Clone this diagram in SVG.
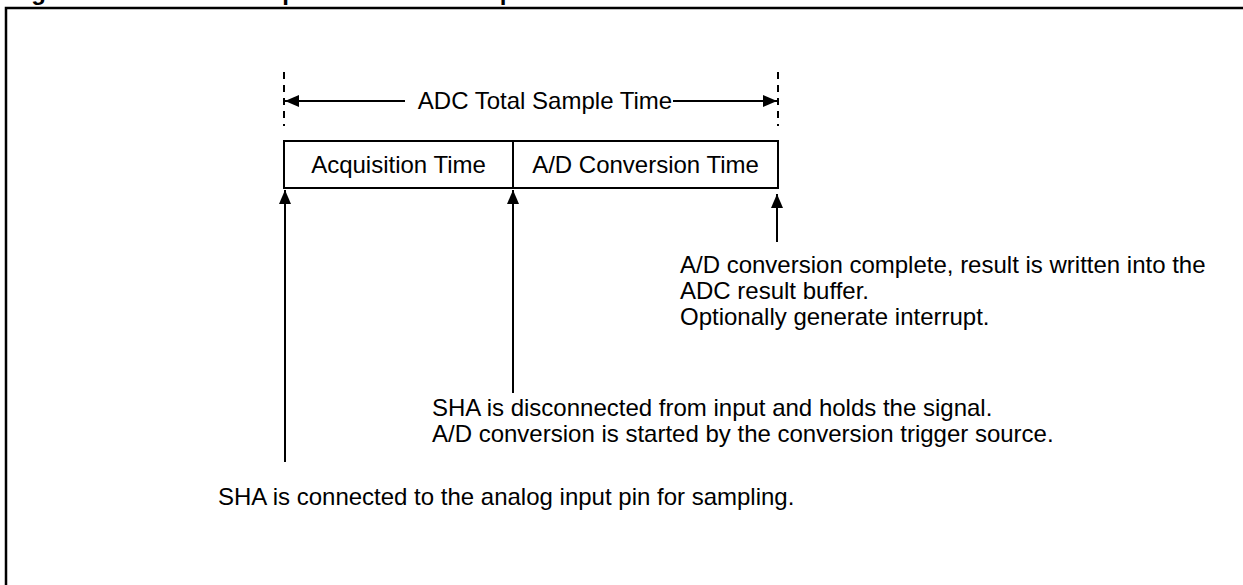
<svg xmlns="http://www.w3.org/2000/svg" width="1243" height="585" viewBox="0 0 1243 585">
<style>
  .t { font-family: "Liberation Sans", Arial, sans-serif; font-size: 24px; fill: #000; }
  .title { font-family: "Liberation Sans", Arial, sans-serif; font-size: 24px; font-weight: bold; fill: #000; }
  .ln { stroke: #000; stroke-width: 2; fill: none; }
  .dash { stroke: #000; stroke-width: 2; stroke-dasharray: 7 6; fill: none; }
  .box { stroke: #000; stroke-width: 2; fill: #fff; }
</style>
<defs>
  <marker id="ah" markerUnits="userSpaceOnUse" markerWidth="14" markerHeight="12" refX="14" refY="6" orient="auto">
    <path d="M0,0 L14,6 L0,12 Z" fill="#000"/>
  </marker>
</defs>
<rect width="1243" height="585" fill="#fff"/>
<g id="frame">
  <rect x="6" y="8" width="1300" height="700" fill="none" stroke="#000" stroke-width="2.5"/>
  <text class="title" x="10" y="-0.5">Figure</text>
  <text class="title" x="173" y="-0.5">ADC Sample Conversion Sequence</text>
</g>
<g id="total-time">
  <line class="dash" x1="284" y1="72" x2="284" y2="126"/>
  <line class="dash" x1="778" y1="72" x2="778" y2="126"/>
  <text class="t" x="545" y="109" text-anchor="middle">ADC Total Sample Time</text>
</g>
<g id="acquisition">
  <rect class="box" x="284" y="141" width="229" height="47"/>
  <text class="t" x="398.5" y="173" text-anchor="middle">Acquisition Time</text>
</g>
<g id="conversion">
  <rect class="box" x="513" y="141" width="265" height="47"/>
  <text class="t" x="645.5" y="173" text-anchor="middle">A/D Conversion Time</text>
</g>
<g id="note-complete">
  <text class="t" x="680" y="273">A/D conversion complete, result is written into the</text>
  <text class="t" x="680" y="299">ADC result buffer.</text>
  <text class="t" x="680" y="325">Optionally generate interrupt.</text>
</g>
<g id="note-hold">
  <text class="t" x="432" y="416">SHA is disconnected from input and holds the signal.</text>
  <text class="t" x="432" y="442">A/D conversion is started by the conversion trigger source.</text>
</g>
<g id="note-sample">
  <text class="t" x="218" y="505">SHA is connected to the analog input pin for sampling.</text>
</g>
<g id="connectors">
  <line class="ln" x1="405" y1="101" x2="285" y2="101" marker-end="url(#ah)"/>
  <line class="ln" x1="673" y1="101" x2="777" y2="101" marker-end="url(#ah)"/>
  <line class="ln" x1="285" y1="462" x2="285" y2="190" marker-end="url(#ah)"/>
  <line class="ln" x1="513" y1="393" x2="513" y2="190" marker-end="url(#ah)"/>
  <line class="ln" x1="777" y1="242" x2="777" y2="194" marker-end="url(#ah)"/>
</g>
</svg>
